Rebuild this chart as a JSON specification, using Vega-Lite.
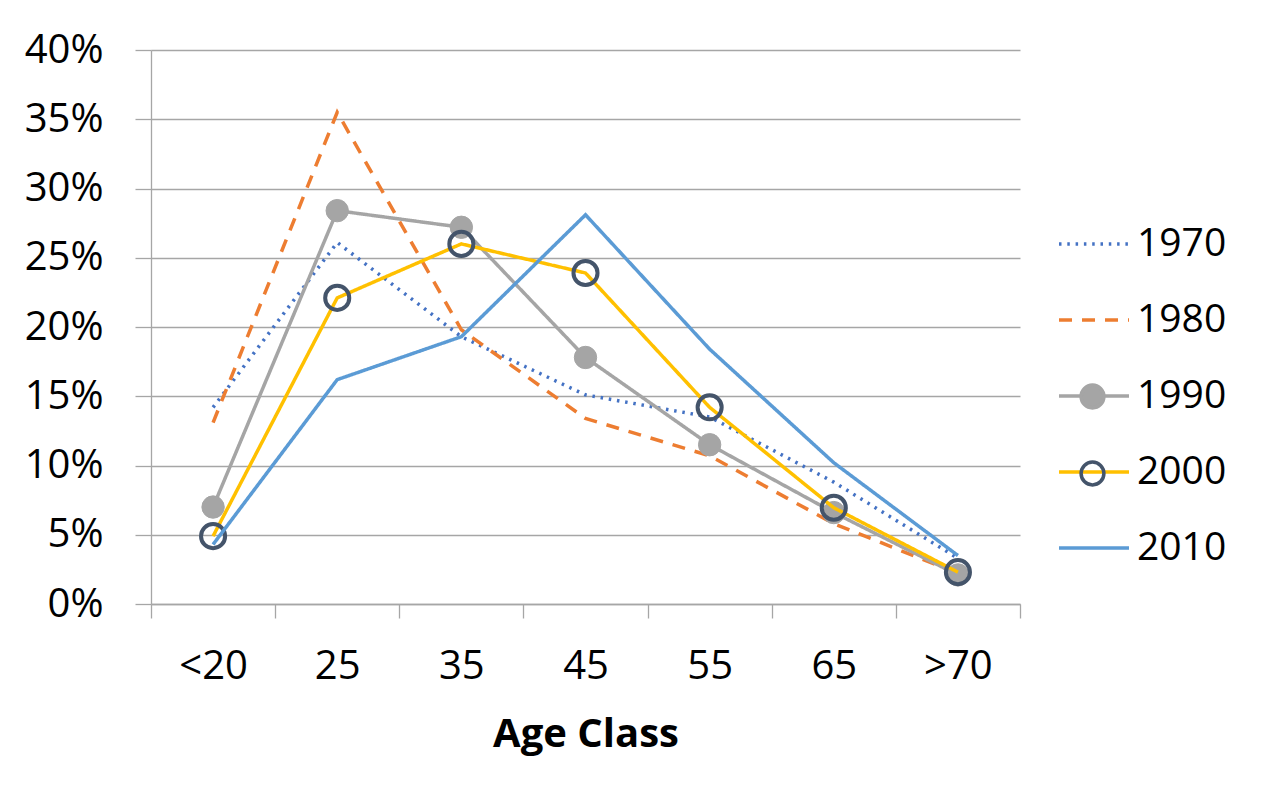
{
  "$schema": "https://vega.github.io/schema/vega-lite/v6.json",
  "autosize": "none",
  "width": 869,
  "height": 554,
  "padding": {"left": 151, "top": 50, "right": 241, "bottom": 187},
  "background": "white",
  "config": {
    "view": {"stroke": null},
    "font": "Open Sans",
    "axis": {
      "domainColor": "#a6a6a6",
      "domainWidth": 1.3,
      "tickColor": "#a6a6a6",
      "tickWidth": 1.3,
      "gridColor": "#a6a6a6",
      "gridWidth": 1.3,
      "labelColor": "#000000",
      "labelFont": "Open Sans",
      "labelFontSize": 40,
      "titleColor": "#000000",
      "titleFont": "Open Sans"
    }
  },
  "data": {
    "values": [
      {"age": "<20", "year": "1970", "value": 0.142},
      {"age": "25", "year": "1970", "value": 0.261},
      {"age": "35", "year": "1970", "value": 0.193},
      {"age": "45", "year": "1970", "value": 0.151},
      {"age": "55", "year": "1970", "value": 0.135},
      {"age": "65", "year": "1970", "value": 0.088},
      {"age": ">70", "year": "1970", "value": 0.033},
      {"age": "<20", "year": "1980", "value": 0.131},
      {"age": "25", "year": "1980", "value": 0.355},
      {"age": "35", "year": "1980", "value": 0.198},
      {"age": "45", "year": "1980", "value": 0.134},
      {"age": "55", "year": "1980", "value": 0.107},
      {"age": "65", "year": "1980", "value": 0.058},
      {"age": ">70", "year": "1980", "value": 0.022},
      {"age": "<20", "year": "1990", "value": 0.070},
      {"age": "25", "year": "1990", "value": 0.284},
      {"age": "35", "year": "1990", "value": 0.272},
      {"age": "45", "year": "1990", "value": 0.178},
      {"age": "55", "year": "1990", "value": 0.115},
      {"age": "65", "year": "1990", "value": 0.066},
      {"age": ">70", "year": "1990", "value": 0.021},
      {"age": "<20", "year": "2000", "value": 0.049},
      {"age": "25", "year": "2000", "value": 0.221},
      {"age": "35", "year": "2000", "value": 0.260},
      {"age": "45", "year": "2000", "value": 0.239},
      {"age": "55", "year": "2000", "value": 0.142},
      {"age": "65", "year": "2000", "value": 0.0695},
      {"age": ">70", "year": "2000", "value": 0.023},
      {"age": "<20", "year": "2010", "value": 0.043},
      {"age": "25", "year": "2010", "value": 0.162},
      {"age": "35", "year": "2010", "value": 0.193},
      {"age": "45", "year": "2010", "value": 0.281},
      {"age": "55", "year": "2010", "value": 0.184},
      {"age": "65", "year": "2010", "value": 0.102},
      {"age": ">70", "year": "2010", "value": 0.035}
    ]
  },
  "encoding": {
    "x": {
      "field": "age",
      "type": "nominal",
      "sort": ["<20", "25", "35", "45", "55", "65", ">70"],
      "scale": {"type": "band", "paddingInner": 0, "paddingOuter": 0},
      "axis": {
        "title": "Age Class",
        "titleFontSize": 40,
        "titleFontWeight": "bold",
        "titlePadding": 28,
        "labelAngle": 0,
        "labelPadding": 28,
        "tickBand": "extent",
        "tickSize": 14,
        "grid": false
      }
    },
    "y": {
      "field": "value",
      "type": "quantitative",
      "scale": {"domain": [0, 0.4], "nice": false},
      "axis": {
        "title": null,
        "values": [0, 0.05, 0.1, 0.15, 0.2, 0.25, 0.3, 0.35, 0.4],
        "format": ".0%",
        "tickSize": 16,
        "labelPadding": 32,
        "grid": true
      }
    }
  },
  "layer": [
    {
      "transform": [{"filter": "datum.year == '1970' || datum.year == '1980' || datum.year == '1990'"}],
      "mark": {"type": "line", "strokeWidth": 3.5},
      "encoding": {
        "color": {
          "field": "year",
          "type": "nominal",
          "scale": {"domain": ["1970", "1980", "1990", "2000", "2010"], "range": ["#4472c4", "#ed7d31", "#a5a5a5", "#ffc000", "#5b9bd5"]},
          "legend": {
            "title": null,
            "orient": "none",
            "legendX": 906,
            "legendY": 157,
            "padding": 0,
            "symbolType": "stroke",
            "symbolSize": 4900,
            "symbolStrokeWidth": 3.5,
            "labelFont": "Open Sans",
            "labelFontSize": 39,
            "labelColor": "#000000",
            "labelOffset": 6,
            "rowPadding": 19
          }
        },
        "strokeDash": {
          "field": "year",
          "type": "nominal",
          "scale": {"domain": ["1970", "1980", "1990", "2000", "2010"], "range": [[2.5, 5.8], [13, 10], [1, 0], [1, 0], [1, 0]]}
        }
      }
    },
    {
      "transform": [{"filter": "datum.year == '1990'"}],
      "mark": {"type": "point", "filled": true, "size": 500, "strokeWidth": 1, "opacity": 1},
      "encoding": {
        "fill": {
          "field": "year",
          "type": "nominal",
          "scale": {"domain": ["1990", "2000"], "range": ["#a5a5a5", "transparent"]},
          "legend": {
            "title": null,
            "orient": "none",
            "legendX": 922,
            "legendY": 327,
            "padding": 0,
            "symbolType": "circle",
            "symbolSize": 520,
            "symbolStrokeWidth": 3.5,
            "labelFont": "Open Sans",
            "labelFontSize": 39,
            "labelOpacity": 0,
            "rowPadding": 37
          }
        },
        "stroke": {
          "field": "year",
          "type": "nominal",
          "scale": {"domain": ["1990", "2000"], "range": ["#a5a5a5", "#44546a"]}
        }
      }
    },
    {
      "transform": [{"filter": "datum.year == '2000'"}],
      "mark": {"type": "line", "strokeWidth": 3.5},
      "encoding": {
        "color": {"field": "year", "type": "nominal", "scale": {"domain": ["1970", "1980", "1990", "2000", "2010"], "range": ["#4472c4", "#ed7d31", "#a5a5a5", "#ffc000", "#5b9bd5"]}},
        "strokeDash": {"field": "year", "type": "nominal", "scale": {"domain": ["1970", "1980", "1990", "2000", "2010"], "range": [[2.5, 5.8], [13, 10], [1, 0], [1, 0], [1, 0]]}}
      }
    },
    {
      "transform": [{"filter": "datum.year == '2000'"}],
      "mark": {"type": "point", "filled": false, "size": 580, "strokeWidth": 4, "opacity": 1},
      "encoding": {
        "fill": {"field": "year", "type": "nominal", "scale": {"domain": ["1990", "2000"], "range": ["#a5a5a5", "transparent"]}},
        "stroke": {"field": "year", "type": "nominal", "scale": {"domain": ["1990", "2000"], "range": ["#a5a5a5", "#44546a"]}}
      }
    },
    {
      "transform": [{"filter": "datum.year == '2010'"}],
      "mark": {"type": "line", "strokeWidth": 3.5},
      "encoding": {
        "color": {"field": "year", "type": "nominal", "scale": {"domain": ["1970", "1980", "1990", "2000", "2010"], "range": ["#4472c4", "#ed7d31", "#a5a5a5", "#ffc000", "#5b9bd5"]}},
        "strokeDash": {"field": "year", "type": "nominal", "scale": {"domain": ["1970", "1980", "1990", "2000", "2010"], "range": [[2.5, 5.8], [13, 10], [1, 0], [1, 0], [1, 0]]}}
      }
    }
  ]
}
